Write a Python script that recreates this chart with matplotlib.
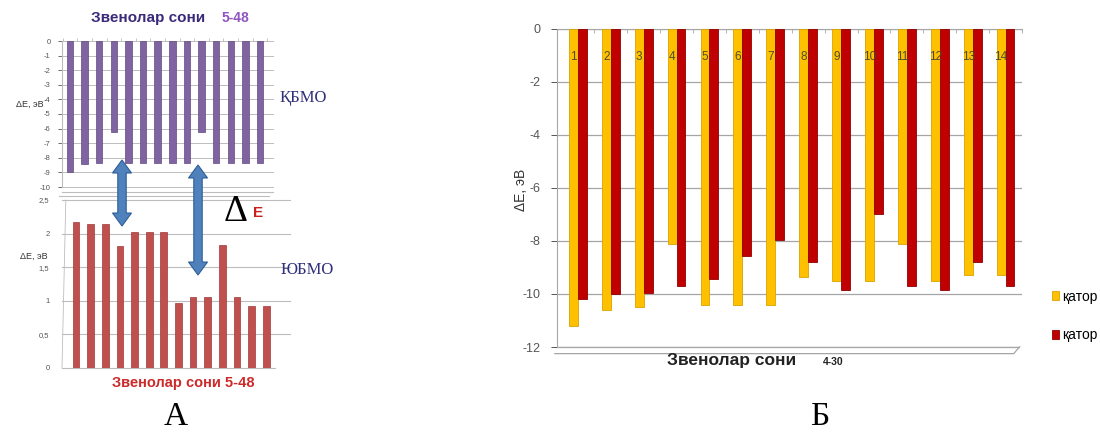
import matplotlib
matplotlib.use("Agg")
import matplotlib.pyplot as plt
from matplotlib.patches import Polygon
import numpy as np

plt.rcParams['font.family'] = ['Liberation Sans', 'DejaVu Sans']

# ---- data -----------------------------------------------------------
links_a = list(range(1, 15))
homo_vals = [-9.0, -8.4, -8.35, -6.2, -8.35, -8.35, -8.35, -8.35, -8.35,
             -6.2, -8.35, -8.35, -8.35, -8.35]
lumo_vals = [2.18, 2.14, 2.14, 1.81, 2.03, 2.03, 2.03, 0.97, 1.06, 1.05,
             1.83, 1.05, 0.93, 0.93]
homo_ticks = list(range(0, -11, -1))
lumo_ticks = [0, 0.5, 1, 1.5, 2, 2.5]
lumo_tick_labels = ["0", "0,5", "1", "1,5", "2", "2,5"]

links_b = [str(i) for i in range(1, 15)]
row_yellow = [-11.2, -10.6, -10.5, -8.1, -10.4, -10.4, -10.4, -9.35, -9.5,
              -9.5, -8.1, -9.5, -9.3, -9.3]
row_red = [-10.2, -10.0, -9.95, -9.7, -9.45, -8.55, -7.95, -8.8, -9.85,
           -7.0, -9.7, -9.85, -8.8, -9.7]
b_ticks = list(range(0, -13, -2))
series_names = ["қатор", "қатор"]

W, H = 1100, 432
fig = plt.figure(figsize=(W / 100, H / 100), dpi=100)


def fx(px):
    return px / W


def fy(py):
    return 1 - py / H


def axes_px(x0, y0, x1, y1):
    return fig.add_axes([fx(x0), fy(y1), fx(x1 - x0), (y1 - y0) / H])


grid_c = "#bdbdbd"
tick_c = "#555555"

# ---- panel A, top: occupied orbitals --------------------------------
ax1 = axes_px(62, 41, 268, 187)
x = np.arange(len(links_a))
ax1.bar(x, homo_vals, width=0.44, color="#8064a2", edgecolor="#5f4a80",
        linewidth=0.5, zorder=3)
ax1.set_xlim(-0.55, 13.55)
ax1.set_ylim(-10, 0)
ax1.set_yticks(homo_ticks)
ax1.set_yticklabels([str(t) for t in homo_ticks])
ax1.tick_params(axis='y', labelsize=5.5, colors=tick_c, length=3, pad=5,
                width=0.6)
ax1.set_xticks(np.arange(-0.5, 14, 1))
ax1.xaxis.tick_top()
ax1.tick_params(axis='x', labeltop=False, length=2, colors=grid_c, width=0.6)
for v in homo_ticks:
    ax1.plot([-0.55, 13.9], [v, v], color=grid_c, lw=0.7, zorder=1,
             clip_on=False)
for s in ["top", "right", "bottom"]:
    ax1.spines[s].set_visible(False)
ax1.spines["left"].set_color(grid_c)
# floor of the 3D box
ax1.plot([-0.55, 13.9], [-10.35, -10.35], color=grid_c, lw=0.8,
         clip_on=False)
ax1.plot([-0.75, 13.6], [-10.6, -10.6], color=grid_c, lw=0.8, clip_on=False)

fig.text(fx(148), fy(18), "Звенолар сони", fontsize=11, fontweight="bold",
         color="#3b2a7a", ha="center", va="center")
fig.text(fx(222), fy(18), "5-48", fontsize=10, fontweight="bold",
         color="#9055c0", ha="left", va="center")
fig.text(fx(30), fy(104), "ΔЕ, эВ", fontsize=6.5, color="#333333",
         ha="center", va="center")
fig.text(fx(280), fy(98), "ҚБМО", fontsize=12, color="#2f2f7a",
         family=["Liberation Serif", "DejaVu Serif"], ha="left",
         va="center")

# ---- panel A, bottom: unoccupied orbitals ---------------------------
ax2 = axes_px(62, 200, 275, 368)
ax2.bar(x, lumo_vals, width=0.46, color="#c0504d", edgecolor="#9c3a38",
        linewidth=0.5, zorder=3)
ax2.set_xlim(-0.96, 13.6)
ax2.set_ylim(0, 2.5)
ax2.set_yticks(lumo_ticks)
ax2.set_yticklabels(lumo_tick_labels)
ax2.tick_params(axis='y', labelsize=5.5, colors=tick_c, length=0, pad=9)
ax2.set_xticks([])
for v in lumo_ticks[1:]:
    ax2.plot([-0.96, 14.6], [v, v], color=grid_c, lw=0.8, zorder=1,
             clip_on=False)
for s in ["top", "right", "left"]:
    ax2.spines[s].set_visible(False)
ax2.spines["bottom"].set_color(grid_c)
ax2.plot([-0.96, -0.7], [0, 2.5], color=grid_c, lw=0.6, clip_on=False)

fig.text(fx(34), fy(256), "ΔЕ, эВ", fontsize=6.5, color="#333333",
         ha="center", va="center")
fig.text(fx(281), fy(270), "ЮБМО", fontsize=12, color="#2f2f7a",
         family=["Liberation Serif", "DejaVu Serif"], ha="left",
         va="center")
fig.text(fx(183), fy(383), "Звенолар сони 5-48", fontsize=10.5,
         fontweight="bold", color="#cc2a2a", ha="center", va="center")

# ΔE marker between the two levels
fig.text(fx(236), fy(212), "Δ", fontsize=27, color="black",
         family=["Liberation Serif", "DejaVu Serif"], ha="center",
         va="center")
fig.text(fx(258), fy(213), "E", fontsize=11, fontweight="bold",
         color="#cc1f1f", ha="center", va="center")


def double_arrow(cx, y_top, y_bot, shaft=4.2, head=9.5, head_len=13):
    pts = [(cx, y_top), (cx + head, y_top + head_len),
           (cx + shaft, y_top + head_len), (cx + shaft, y_bot - head_len),
           (cx + head, y_bot - head_len), (cx, y_bot),
           (cx - head, y_bot - head_len), (cx - shaft, y_bot - head_len),
           (cx - shaft, y_top + head_len), (cx - head, y_top + head_len)]
    poly = Polygon([(fx(a), fy(b)) for a, b in pts], closed=True,
                   transform=fig.transFigure, facecolor="#4f81bd",
                   edgecolor="#2f5f96", linewidth=0.8, zorder=10)
    fig.add_artist(poly)


double_arrow(122, 160, 226)
double_arrow(198, 165, 275)

# ---- panel B --------------------------------------------------------
ax3 = axes_px(557, 29, 1022, 347)
xb = np.arange(len(links_b))
bw = 0.27
ax3.bar(xb - bw / 2, row_yellow, width=bw, color="#ffc000",
        edgecolor="#d9a300", linewidth=0.6, zorder=3, label=series_names[0])
ax3.bar(xb + bw / 2, row_red, width=bw, color="#c00000",
        edgecolor="#8f0000", linewidth=0.6, zorder=3, label=series_names[1])
ax3.set_xlim(-0.634, 13.42)
ax3.set_ylim(-12, 0)
ax3.set_yticks(b_ticks)
ax3.set_yticklabels([str(t) for t in b_ticks])
ax3.tick_params(axis='y', labelsize=9, colors=tick_c, length=4, pad=8,
                width=0.7)
ax3.yaxis.grid(True, color="#a6a6a6", lw=0.9, zorder=0)
ax3.set_xticks(np.arange(0.5, 13.6, 1))
ax3.xaxis.tick_top()
ax3.tick_params(axis='x', labeltop=False, direction="in", length=3,
                colors="#a6a6a6", width=0.6)
for s in ["right", "bottom"]:
    ax3.spines[s].set_visible(False)
ax3.spines["top"].set_color("#a6a6a6")
ax3.spines["left"].set_color("#a6a6a6")
for i, lab in enumerate(links_b):
    ax3.text(xb[i] - bw / 2, -1.05, lab, fontsize=8.5, color="#4d4d2e",
             ha="center", va="center", zorder=5)
# floor of the 3D box
ax3.plot([-0.7, 13.25, 13.42], [-12.25, -12.25, -12.0], color="#a6a6a6",
         lw=0.9, clip_on=False)
ax3.plot([-0.634, 13.42], [-12, -12], color="#a6a6a6", lw=0.9,
         clip_on=False)

fig.text(fx(521), fy(190), "ΔЕ, эВ", fontsize=10, color="#333333",
         rotation=90, ha="center", va="center")
fig.text(fx(732), fy(361), "Звенолар сони", fontsize=12.5,
         fontweight="bold", color="#222222", ha="center", va="center")
fig.text(fx(833), fy(362), "4-30", fontsize=7.5, fontweight="bold",
         color="#222222", ha="center", va="center")
fig.legend(loc="center left", bbox_to_anchor=(fx(1046), fy(316)),
           frameon=False, fontsize=10, handlelength=0.55, handleheight=0.55,
           handletextpad=0.2, labelspacing=1.8, borderaxespad=0)

# panel captions
fig.text(fx(176), fy(417), "А", fontsize=24,
         family=["Liberation Serif", "DejaVu Serif"], ha="center",
         va="center")
fig.text(fx(820), fy(417), "Б", fontsize=24,
         family=["Liberation Serif", "DejaVu Serif"], ha="center",
         va="center")

fig.savefig("out.png", dpi=100)
